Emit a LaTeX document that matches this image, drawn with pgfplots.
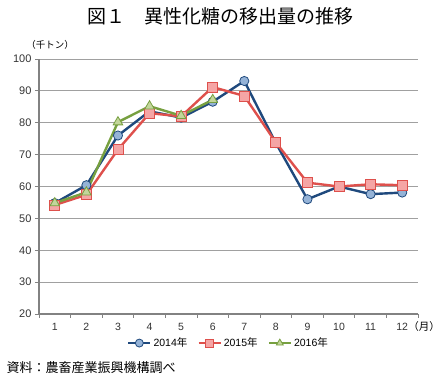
\documentclass[border=0pt]{standalone}
\usepackage{pgfplots}
\pgfplotsset{compat=1.18}
\usepackage{fontspec}
\setmainfont{Liberation Sans}
\newfontfamily\jp{Noto Sans CJK JP}
\definecolor{bline}{RGB}{31,73,125}
\definecolor{bfill}{RGB}{149,179,215}
\definecolor{rline}{RGB}{222,80,76}
\definecolor{rfill}{RGB}{245,165,165}
\definecolor{gline}{RGB}{119,160,64}
\definecolor{gfill}{RGB}{195,214,155}
\definecolor{gridc}{RGB}{160,160,160}
\definecolor{axc}{RGB}{130,130,130}
\begin{document}
\begin{tikzpicture}
\useasboundingbox (0,0) rectangle (440bp,380bp);
\begin{axis}[
  at={(39bp,66bp)}, anchor=south west,
  width=379bp, height=255bp, scale only axis,
  xmin=0.5, xmax=12.5, ymin=20, ymax=100,
  axis x line=bottom, axis y line=left,
  axis line style={draw=axc, line width=1.4bp, -},
  xtick={0.5,1.5,2.5,3.5,4.5,5.5,6.5,7.5,8.5,9.5,10.5,11.5,12.5},
  x tick label as interval,
  xticklabels={1,2,3,4,5,6,7,8,9,10,11,12},
  ytick={20,30,40,50,60,70,80,90,100},
  tick align=outside, major tick length=4bp,
  tick style={draw=axc, line width=0.8bp},
  ymajorgrids, grid style={draw=gridc, line width=0.9bp},
  /pgf/number format/assume math mode=true,
  ticklabel style={font=\fontsize{11bp}{12bp}\selectfont, text=black!80},
  xticklabel style={yshift=-2bp, font=\fontsize{10.5bp}{12bp}\selectfont},
  legend columns=3,
  legend style={at={(0.5,-0.114)}, anchor=center, draw=none, fill=none,
    font=\fontsize{10.5bp}{12bp}\selectfont,
    /tikz/every even column/.append style={column sep=8bp}},
  legend image code/.code={\draw[#1] (0bp,0bp) -- (11bp,0bp) plot[mark size=4bp] coordinates {(11bp,0bp)} -- (22bp,0bp);},
  clip=false,
]
\addplot[bline, line width=2.4bp, mark=*, mark size=4.6bp, mark options={fill=bfill, draw=bline, line width=0.8bp}]
 coordinates {(1,54.8) (2,60.4) (3,76) (4,83.6) (5,81.6) (6,86.6) (7,93.1) (8,73.6) (9,56) (10,60) (11,57.6) (12,58.1)};
\addlegendentry{2014{\jp 年}}
\addplot[rline, line width=2.4bp, mark=square*, mark size=5bp, mark options={fill=rfill, draw=rline, line width=0.8bp}]
 coordinates {(1,54.2) (2,57.4) (3,71.6) (4,83) (5,82) (6,91.2) (7,88.4) (8,73.8) (9,61.2) (10,60) (11,60.7) (12,60.4)};
\addlegendentry{2015{\jp 年}}
\addplot[gline, line width=2.4bp, mark=triangle*, mark size=5.5bp, mark options={fill=gfill, draw=gline, line width=0.8bp}]
 coordinates {(1,54.8) (2,58.2) (3,80.2) (4,85.2) (5,82.2) (6,87.2)};
\addlegendentry{2016{\jp 年}}
\end{axis}
\node[font=\fontsize{19bp}{22bp}\selectfont\jp] at (220bp,364bp) {図１　異性化糖の移出量の推移};
\node[font=\fontsize{9.5bp}{11bp}\selectfont\jp] at (50bp,335bp) {（千トン）};
\node[font=\fontsize{10.5bp}{12bp}\selectfont\jp] at (424bp,53bp) {（月）};
\node[font=\fontsize{13bp}{15bp}\selectfont\jp, anchor=west] at (3bp,12bp) {資料：農畜産業振興機構調べ};
\end{tikzpicture}
\end{document}
